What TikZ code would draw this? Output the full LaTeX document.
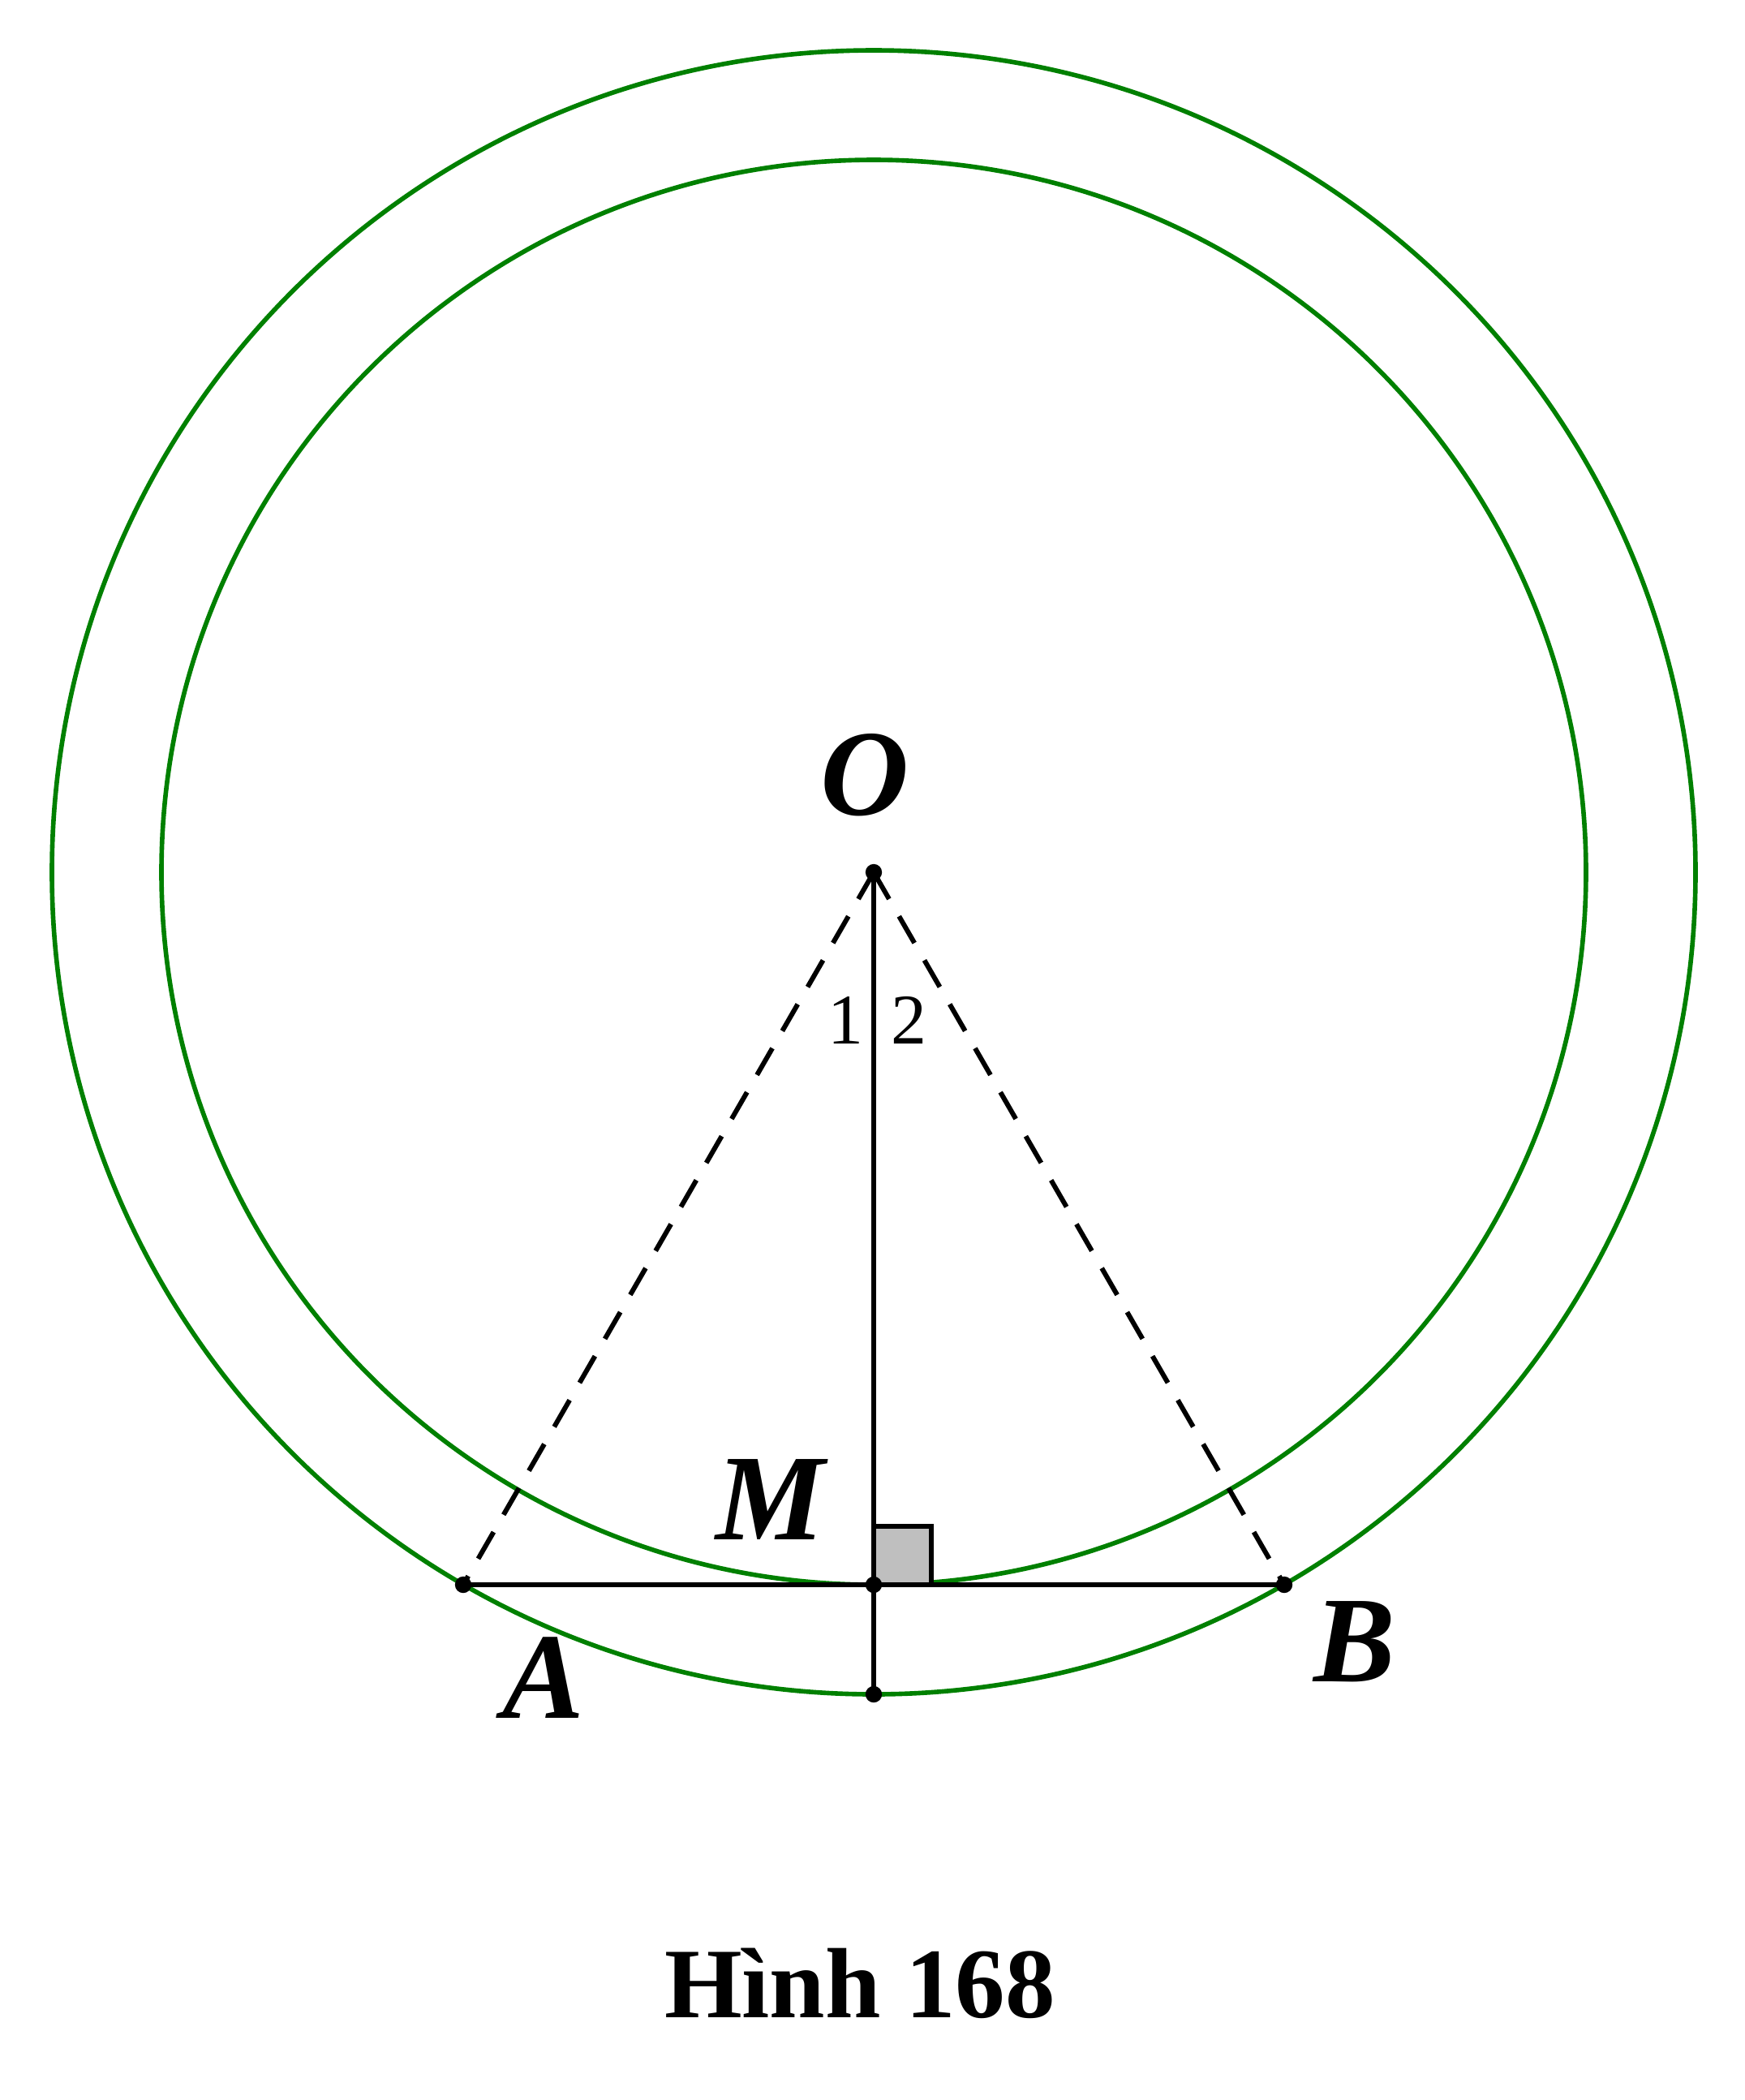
\documentclass[tikz,border=0pt]{standalone}
\usepackage{fontspec}
\setmainfont{Liberation Serif}
\usetikzlibrary{calc}
\definecolor{ringgreen}{RGB}{0,128,0}

\begin{document}
\begin{tikzpicture}[
         ring/.style = {ringgreen, line width=1.6pt},
         seg/.style = {black, line width=1.7pt},
         dashseg/.style = {seg, dash pattern=on 10.8pt off 7pt},
         pt/.style = {circle, fill=black, inner sep=0pt, minimum size=5.8pt},
         ptlabel/.style = {font=\fontsize{43}{50}\selectfont\bfseries\itshape, inner sep=0pt},
         anglabel/.style = {font=\fontsize{25}{30}\selectfont, inner sep=0pt}
]
      \useasboundingbox (0,0) rectangle (21.51,-25.88);

      % centre and the two circles
      \coordinate (O) at (10.77,-10.75);
      \draw[ring] (O) circle (10.13);
      \draw[ring] (O) circle (8.78);

      % chord AB tangent to the inner circle at M
      \coordinate (M) at ($(O)+(0,-8.78)$);
      \coordinate (A) at ($(M)+(-5.06,0)$);
      \coordinate (B) at ($(M)+(5.06,0)$);
      \coordinate (N) at ($(O)+(0,-10.13)$);

      % right angle mark at M
      \draw[seg, fill=black!25] (M) rectangle ($(M)+(0.71,0.72)$);

      \draw[dashseg] (O) -- (A);
      \draw[dashseg] (O) -- (B);
      \draw[seg] (A) -- (B);
      \draw[seg] (O) -- (N);

      \foreach \p in {O,A,M,B,N}
         \node[pt] at (\p) {};

      % labels
      \node[ptlabel] (labO) at (10.66,-9.55)  {O};
      \node[ptlabel] (labM) at (9.50,-18.48)  {M};
      \node[ptlabel] (labA) at (6.70,-20.68)  {A};
      \node[ptlabel] (labB) at (16.70,-20.23) {B};
      \node[anglabel] (ang1) at (10.42,-12.57) {1};
      \node[anglabel] (ang2) at (11.20,-12.57) {2};

      \node[font=\fontsize{35}{42}\selectfont\bfseries, inner sep=0pt] (caption)
         at (10.60,-24.44) {Hình 168};
\end{tikzpicture}
\end{document}
